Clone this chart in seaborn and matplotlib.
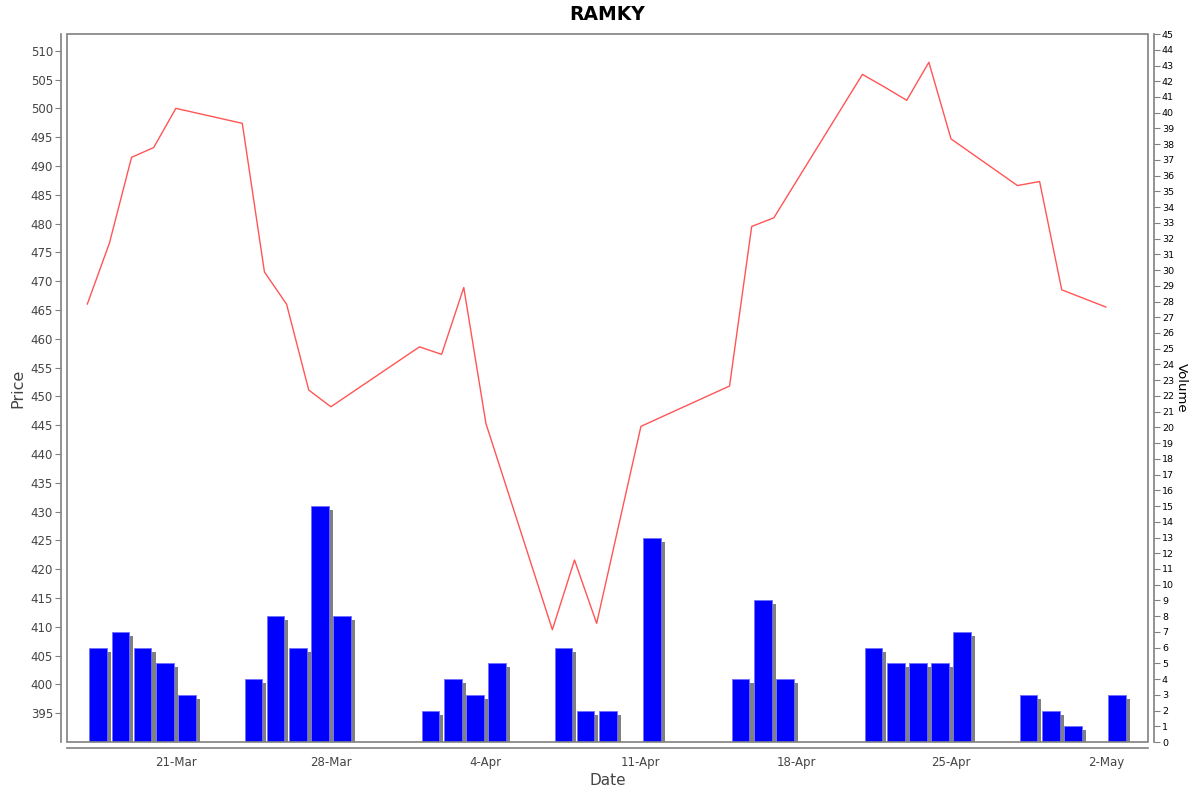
import pandas as pd
import matplotlib
matplotlib.use('Agg')
import matplotlib.pyplot as plt
import matplotlib.patheffects as pe
from matplotlib.patches import Rectangle
import seaborn as sns

# trading days shown in the chart
dates = ['2014-03-17', '2014-03-18', '2014-03-19', '2014-03-20', '2014-03-21',
         '2014-03-24', '2014-03-25', '2014-03-26', '2014-03-27', '2014-03-28',
         '2014-04-01', '2014-04-02', '2014-04-03', '2014-04-04',
         '2014-04-07', '2014-04-08', '2014-04-09', '2014-04-11',
         '2014-04-15', '2014-04-16', '2014-04-17',
         '2014-04-21', '2014-04-22', '2014-04-23', '2014-04-24', '2014-04-25',
         '2014-04-28', '2014-04-29', '2014-04-30', '2014-05-02']
prices = [466.0, 476.6, 491.5, 493.2, 500.0,
          497.4, 471.6, 466.0, 451.1, 448.2,
          458.6, 457.3, 468.9, 445.3,
          409.5, 421.6, 410.6, 444.8,
          451.8, 479.5, 481.0,
          505.9, 503.7, 501.4, 508.0, 494.7,
          486.6, 487.3, 468.5, 465.5]
volumes = [6, 7, 6, 5, 3,
           4, 8, 6, 15, 8,
           2, 4, 3, 5,
           6, 2, 2, 13,
           4, 9, 4,
           6, 5, 5, 5, 7,
           3, 2, 1, 3]
tick_dates = ['2014-03-21', '2014-03-28', '2014-04-04', '2014-04-11',
              '2014-04-18', '2014-04-25', '2014-05-02']
tick_labels = ['21-Mar', '28-Mar', '4-Apr', '11-Apr', '18-Apr', '25-Apr', '2-May']

df = pd.DataFrame({'date': pd.to_datetime(dates), 'price': prices, 'volume': volumes})

sns.set_style('white')
plt.rcParams['font.family'] = ['DejaVu Sans']

fig = plt.figure(figsize=(12, 7.92), dpi=100)
ax = fig.add_axes([0.0558, 0.0631, 0.9009, 0.8939])
ax2 = ax.twinx()

# volume bars with drop shadow
bar_x = df['date'] + pd.Timedelta(hours=2.4)
ax2.bar(bar_x, df['volume'], width=0.8, align='edge', color='#0000ff',
        edgecolor='#7070ff', linewidth=0.6,
        path_effects=[pe.SimplePatchShadow(offset=(2.9, -2.9), shadow_rgbFace='#808080', alpha=1.0),
                      pe.Normal()])
ax2.set_ylim(0, 45)
ax2.set_yticks(range(0, 46))
ax2.tick_params(axis='y', labelsize=6.8, length=4, width=0.8, color='#808080',
                labelcolor='black', pad=2, direction='out')
ax2.set_ylabel('Volume', rotation=-90, fontsize=9.5, color='black', labelpad=10)

# price line on top
ax.set_zorder(ax2.get_zorder() + 1)
ax.patch.set_visible(False)
sns.lineplot(data=df, x='date', y='price', ax=ax, color='#ff5555', linewidth=1.0)
ax.set_ylim(390.0, 512.9)
ax.set_yticks(range(395, 511, 5))
ax.set_xlim(pd.Timestamp('2014-03-16 02:00'), pd.Timestamp('2014-05-03 21:30'))
ax.set_xticks(pd.to_datetime(tick_dates))
ax.set_xticklabels(tick_labels)
ax.tick_params(axis='both', labelsize=8.5, length=4, width=0.8, color='#808080',
               labelcolor='#444444', pad=2, direction='out')
ax.set_xlabel('Date', fontsize=11, color='#444444', labelpad=3)
ax.set_ylabel('Price', fontsize=11.5, color='#444444', labelpad=4)
ax.set_title('RAMKY', fontsize=13.5, fontweight='bold', color='black', pad=10)

# axis lines offset from the plot box, like the original
for a in (ax, ax2):
    for side in ('left', 'right', 'bottom', 'top'):
        a.spines[side].set_visible(False)
ax.spines['left'].set_visible(True)
ax.spines['left'].set_position(('outward', 4))
ax.spines['bottom'].set_visible(True)
ax.spines['bottom'].set_position(('outward', 4))
ax2.spines['right'].set_visible(True)
ax2.spines['right'].set_position(('outward', 4))
for sp in (ax.spines['left'], ax.spines['bottom'], ax2.spines['right']):
    sp.set_color('#808080')
    sp.set_linewidth(1.2)

ax.add_patch(Rectangle((0, 0), 1, 1, transform=ax.transAxes, fill=False,
                       edgecolor='#808080', linewidth=1.2, clip_on=False, zorder=5))

fig.savefig('out.png', dpi=100)
